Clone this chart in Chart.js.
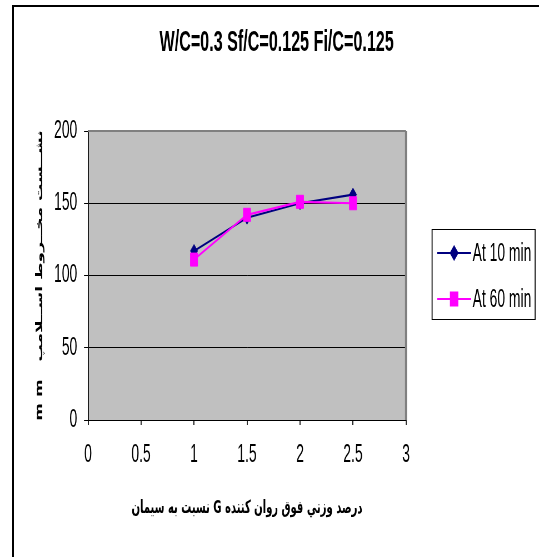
<!DOCTYPE html>
<html>
<head>
<meta charset="utf-8">
<script src="https://cdn.jsdelivr.net/npm/chart.js@4/dist/chart.umd.min.js"></script>
<style>
  html, body { margin: 0; padding: 0; background: #fff; }
  #wrap { position: relative; width: 539px; height: 557px; overflow: hidden; }
  #frame { position: absolute; left: 12px; top: 5px; width: 600px; height: 600px;
           border-top: 2px solid #000; border-left: 2px solid #000; }
  #c { position: absolute; left: 0; top: 0; }
</style>
</head>
<body>
<div id="wrap">
  <div id="frame"></div>
  <!-- right-to-left text direction so the Persian axis titles read naturally -->
  <canvas id="c" dir="rtl" width="970" height="557" style="width:539px;height:557px"></canvas>
</div>
<script>
// Superplasticizer dosage (% of cement) and slump readings
const dosage = [1, 1.5, 2, 2.5];
const slumpAt10 = [117, 140, 150, 156];
const slumpAt60 = [111, 142, 151, 150];
const seriesNames = ['At 10 min', 'At 60 min'];
const xTicks = [0, 0.5, 1, 1.5, 2, 2.5, 3];
const yTicks = [0, 50, 100, 150, 200];
const chartTitle = 'W/C=0.3 Sf/C=0.125 Fi/C=0.125';
const xTitle = 'درصد وزني فوق روان كننده G نسبت به سيمان';
const yTitle = 'نشــست مخــروط اســلامپ   m m';

// The drawing surface is wider than its on-screen box and squeezed horizontally.
const SX = 1.8;
const LATIN = "'Liberation Sans', Arial, sans-serif";
const ARABIC = "'DejaVu Sans', 'Liberation Sans', sans-serif";

const pairs = ys => dosage.map((x, i) => ({ x, y: ys[i] }));

const plotBackground = {
  id: 'plotBackground',
  beforeDraw(chart) {
    const { ctx, chartArea: a } = chart;
    ctx.save();
    ctx.fillStyle = '#C0C0C0';
    ctx.fillRect(a.left, a.top, a.right - a.left, a.bottom - a.top);
    ctx.restore();
  },
  beforeDatasetsDraw(chart) {
    const { ctx, chartArea: a } = chart;
    ctx.save();
    ctx.strokeStyle = '#808080';
    ctx.lineWidth = 2 * SX;
    ctx.beginPath();
    ctx.moveTo(a.right, a.bottom);
    ctx.lineTo(a.right, a.top);
    ctx.stroke();
    ctx.lineWidth = 2;
    ctx.beginPath();
    ctx.moveTo(a.left, a.top);
    ctx.lineTo(a.right, a.top);
    ctx.stroke();
    ctx.restore();
  }
};

const boxedLegend = {
  id: 'boxedLegend',
  afterDraw(chart) {
    const { ctx } = chart;
    const box = { left: 432 * SX, right: 535 * SX, top: 229, bottom: 319 };
    const rows = [253, 299];
    const lineFrom = 437 * SX, lineTo = 471 * SX, textX = 472.5 * SX;
    ctx.save();
    ctx.strokeStyle = '#000';
    ctx.lineWidth = 1;
    ctx.beginPath();
    ctx.moveTo(box.left, box.top + 0.5); ctx.lineTo(box.right, box.top + 0.5);
    ctx.moveTo(box.left, box.bottom + 0.5); ctx.lineTo(box.right, box.bottom + 0.5);
    ctx.stroke();
    ctx.lineWidth = SX;
    ctx.beginPath();
    ctx.moveTo(box.left, box.top); ctx.lineTo(box.left, box.bottom + 1);
    ctx.moveTo(box.right, box.top); ctx.lineTo(box.right, box.bottom + 1);
    ctx.stroke();

    chart.data.datasets.forEach((ds, i) => {
      const y = rows[i];
      ctx.strokeStyle = ds.borderColor;
      ctx.lineWidth = ds.borderWidth;
      ctx.beginPath();
      ctx.moveTo(lineFrom, y);
      ctx.lineTo(lineTo, y);
      ctx.stroke();
      const cx = (lineFrom + lineTo) / 2;
      ctx.fillStyle = ds.pointBackgroundColor;
      ctx.strokeStyle = ds.pointBorderColor;
      Chart.helpers.drawPoint(ctx, {
        pointStyle: ds.pointStyle, radius: ds.pointRadius, rotation: 0, borderWidth: 1
      }, cx, y);
      ctx.fillStyle = '#000';
      ctx.font = '25px ' + LATIN;
      ctx.textAlign = 'left';
      ctx.textBaseline = 'middle';
      ctx.fillText(ds.label, textX, y + 1);
    });
    ctx.restore();
  }
};

new Chart(document.getElementById('c'), {
  type: 'line',
  data: {
    datasets: [
      {
        label: seriesNames[0],
        data: pairs(slumpAt10),
        borderColor: '#000080',
        backgroundColor: '#000080',
        pointBackgroundColor: '#000080',
        pointBorderColor: '#000080',
        pointStyle: 'rectRot',
        pointRadius: 6.5,
        pointBorderWidth: 1,
        borderWidth: 2.2,
        order: 2
      },
      {
        label: seriesNames[1],
        data: pairs(slumpAt60),
        borderColor: '#FF00FF',
        backgroundColor: '#FF00FF',
        pointBackgroundColor: '#FF00FF',
        pointBorderColor: '#FF00FF',
        pointStyle: 'rect',
        pointRadius: 9.2,
        pointBorderWidth: 1,
        borderWidth: 2.2,
        order: 1
      }
    ]
  },
  options: {
    responsive: false,
    devicePixelRatio: 1,
    animation: false,
    layout: { padding: { left: 25.6, right: 0, top: 0, bottom: 0 } },
    plugins: {
      legend: { display: false },
      tooltip: { enabled: false },
      title: {
        display: true,
        text: chartTitle,
        color: '#000',
        font: { family: LATIN, size: 29, weight: 'bold' },
        padding: { top: 25.6, bottom: 70.6 }
      }
    },
    scales: {
      x: {
        type: 'linear',
        min: 0, max: 3,
        afterBuildTicks: s => { s.ticks = xTicks.map(v => ({ value: v })); },
        afterFit: s => { s.height = 137; },
        ticks: {
          color: '#000', font: { family: LATIN, size: 25 }, padding: 15.5, maxRotation: 0,
          callback: v => String(v)
        },
        grid: { drawOnChartArea: false, drawTicks: true, tickLength: 5, color: '#000', lineWidth: SX },
        border: { color: '#000', width: 1 },
        title: {
          display: true,
          text: xTitle,
          color: '#000',
          font: { family: ARABIC, size: 18, weight: 'bold' },
          padding: { top: 0, bottom: 38.2 }
        }
      },
      y: {
        type: 'linear',
        min: 0, max: 200,
        afterBuildTicks: s => { s.ticks = yTicks.map(v => ({ value: v })); },
        afterFit: s => { s.width = 88 * SX - 25.6; },
        ticks: { color: '#000', font: { family: LATIN, size: 25 }, padding: 12.2, callback: v => String(v) },
        grid: {
          color: c => (c.tick && c.tick.value === 200 ? '#808080' : '#000'),
          tickColor: '#000',
          lineWidth: 1,
          tickLength: 4 * SX
        },
        border: { color: '#000', width: SX },
        title: {
          display: true,
          text: yTitle,
          color: '#000',
          font: { family: ARABIC, size: 17, weight: 'bold' },
          padding: { top: 36.2, bottom: 0 }
        }
      },
      yRight: {
        type: 'linear',
        position: 'right',
        display: true,
        ticks: { display: false },
        grid: { display: false },
        border: { display: false },
        afterFit: s => { s.width = 539 * SX - 406 * SX; }
      }
    }
  },
  plugins: [plotBackground, boxedLegend]
});
</script>
</body>
</html>
